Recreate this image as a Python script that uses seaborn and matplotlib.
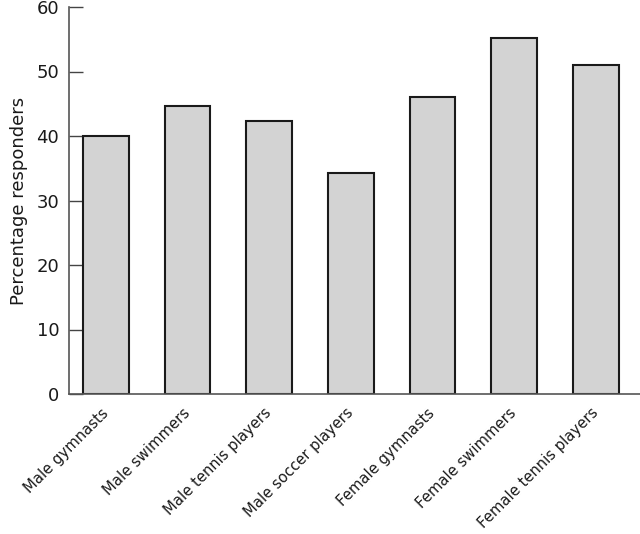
import matplotlib
matplotlib.use("Agg")
import matplotlib.pyplot as plt
import seaborn as sns
import pandas as pd

categories = ["Male gymnasts", "Male swimmers", "Male tennis players", "Male soccer players",
              "Female gymnasts", "Female swimmers", "Female tennis players"]
values = [40.0, 44.6, 42.3, 34.2, 46.0, 55.2, 51.0]
yticks = [0, 10, 20, 30, 40, 50, 60]

sns.set_style("white")
plt.rcParams['font.family'] = ['DejaVu Sans']

df = pd.DataFrame({"group": categories, "pct": values})

fig = plt.figure(figsize=(6.4, 5.34), dpi=100)
ax = fig.add_axes([69/640, 140/534, 1 - 69/640, (394 - 7)/534])
sns.barplot(data=df, x="group", y="pct", ax=ax, color="#d3d3d3", saturation=1,
            width=0.56, edgecolor="#1a1a1a", linewidth=1.5)

ax.set_ylim(0, 60)
ax.set_xlim(-0.45, 6.54)
ax.set_yticks(yticks)
ax.set_yticklabels([str(t) for t in yticks], fontsize=13, color="#1a1a1a")
ax.set_xticks(range(len(categories)))
ax.set_xticklabels(categories, rotation=45, ha="right", va="center",
                   rotation_mode="anchor", fontsize=10.6, color="#1a1a1a")
ax.tick_params(axis="y", direction="in", length=10, width=1, color="#444444", pad=7, left=True)
ax.tick_params(axis="x", length=0, pad=12)
ax.set_ylabel("Percentage responders", fontsize=13, color="#1a1a1a", labelpad=6)
ax.set_xlabel("")

for s in ["top", "right"]:
    ax.spines[s].set_visible(False)
for s in ["left", "bottom"]:
    ax.spines[s].set_color("#555555")
    ax.spines[s].set_linewidth(1.2)

fig.savefig("out.png", dpi=100)
